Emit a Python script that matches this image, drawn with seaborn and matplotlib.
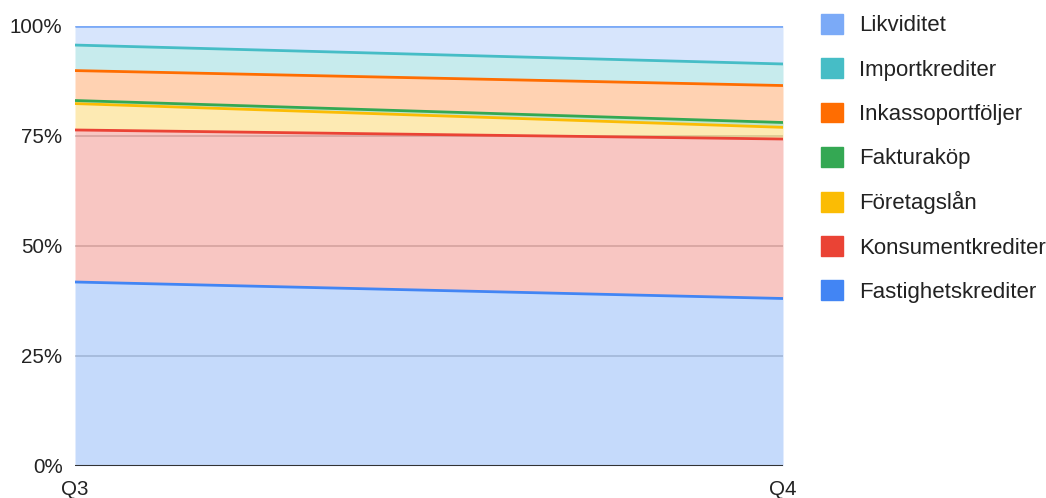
import matplotlib
matplotlib.use("Agg")
import matplotlib.pyplot as plt
import seaborn as sns
import numpy as np
from matplotlib.patches import Patch
from matplotlib.ticker import FuncFormatter

# === Data (share of portfolio, %) ===
quarters = ["Q3", "Q4"]
series_names = ["Fastighetskrediter", "Konsumentkrediter", "Företagslån",
                "Fakturaköp", "Inkassoportföljer", "Importkrediter", "Likviditet"]
fastighetskrediter = [41.75, 38.0]
konsumentkrediter = [34.55, 36.25]
foretagslan = [6.0, 2.65]
fakturakop = [0.7, 1.1]
inkassoportfoljer = [6.8, 8.4]
importkrediter = [5.8, 4.9]
likviditet = [4.4, 8.7]

colors = ["#4285F4", "#EA4335", "#FBBC04", "#34A853", "#FF6D01", "#46BDC6", "#7BAAF7"]

sns.set_style("white")
plt.rcParams["font.family"] = ["Liberation Sans", "DejaVu Sans"]

values = np.array([fastighetskrediter, konsumentkrediter, foretagslan, fakturakop,
                   inkassoportfoljer, importkrediter, likviditet])
values = values / values.sum(axis=0) * 100
x = np.arange(len(quarters))

fig = plt.figure(figsize=(10.46, 4.98), dpi=100)
ax = fig.add_axes([75 / 1046, 32.3 / 498, 708 / 1046, 440 / 498])

# gridlines under the areas
for g in [25, 50, 75, 100]:
    ax.axhline(g, color="#cccccc", lw=1.2, zorder=0)

ax.stackplot(x, values, colors=colors, alpha=0.3, linewidth=0, zorder=1)
tops = np.cumsum(values, axis=0)
for top, c in zip(tops, colors):
    ax.plot(x, top, color=c, lw=2, zorder=2, solid_capstyle="butt")

ax.axhline(0, color="#333333", lw=1.5, zorder=3)

ax.set_xlim(0, 1)
ax.set_ylim(0, 100)
ax.set_yticks([0, 25, 50, 75, 100])
ax.yaxis.set_major_formatter(FuncFormatter(lambda v, p: f"{int(v)}%"))
ax.set_xticks(x)
ax.set_xticklabels(quarters)
ax.tick_params(axis="both", length=0, labelsize=14.8, colors="#222222")
ax.tick_params(axis="y", pad=9)
ax.tick_params(axis="x", pad=10)
sns.despine(ax=ax, left=True, bottom=True, top=True, right=True)

# === Legend (top series first) ===
handles = [Patch(facecolor=c, edgecolor=c) for c in colors[::-1]]
fig.legend(handles, series_names[::-1], loc="upper left",
           bbox_to_anchor=(812 / 1046, 1 - 5 / 498), frameon=False,
           borderaxespad=0, borderpad=0.4,
           fontsize=16, handlelength=1.0, handleheight=1.0,
           handletextpad=0.72, labelspacing=0.98, labelcolor="#222222")

fig.savefig("out.png", dpi=100)
plt.close(fig)
